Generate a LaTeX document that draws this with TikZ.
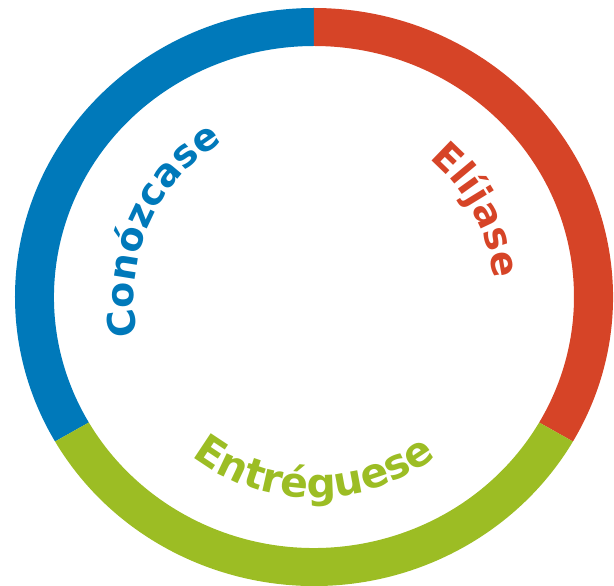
\documentclass[tikz,border=0pt]{standalone}
\usepackage{fontspec}
\usetikzlibrary{decorations.text}
\newfontfamily\ringfont{DejaVu Sans}
\definecolor{ringblue}{HTML}{0079BA}
\definecolor{ringred}{HTML}{D64427}
\definecolor{ringgreen}{HTML}{9CBD24}

\begin{document}
\begin{tikzpicture}[
    ringtext/.style n args={3}{decorate, decoration={text along path, text align=center,
      text color=#1, text={|\ringfont\bfseries\fontsize{#2}{#2}\selectfont|#3}}}
  ]
  \useasboundingbox (-314pt,-289pt) rectangle (300pt,297pt);
  \coordinate (c) at (0,0);

  \foreach \a/\b/\col in {90/210/ringblue, -30/90/ringred, 210/330/ringgreen}
    \fill[\col] (\a:299pt and 289pt) arc[start angle=\a, end angle=\b, x radius=299pt, y radius=289pt]
      -- (\b:260pt and 251pt) arc[start angle=\b, end angle=\a, x radius=260pt, y radius=251pt] -- cycle;

  \path[ringtext={ringblue}{38}{Conózcase}] (190:180pt) arc[start angle=190, end angle=123, radius=180pt];
  \path[ringtext={ringred}{38}{Elíjase}] (50:180pt) arc[start angle=50, end angle=6, radius=180pt];
  \path[ringtext={ringgreen}{41}{Entréguese}] (232:201pt) arc[start angle=232, end angle=308, radius=201pt];
\end{tikzpicture}
\end{document}
